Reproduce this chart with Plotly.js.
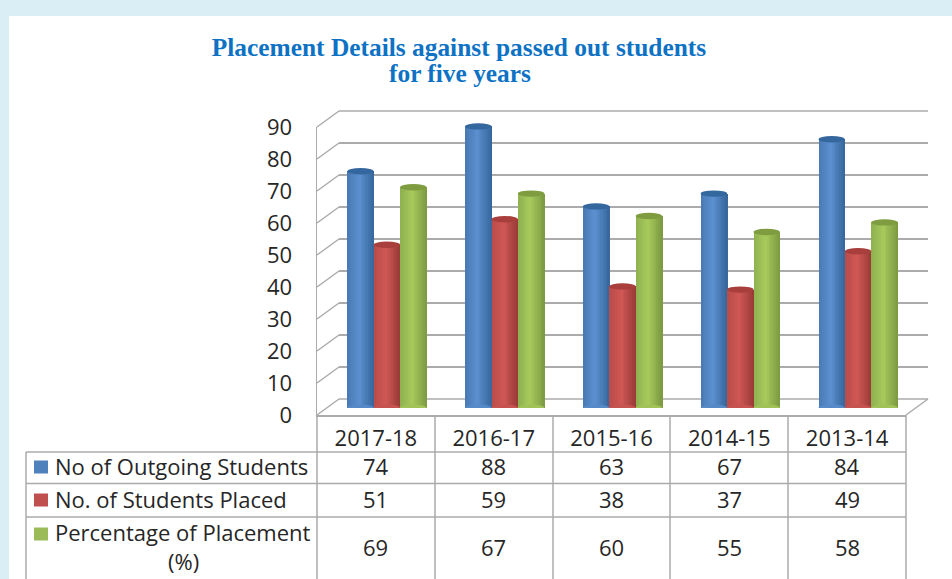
<!DOCTYPE html>
<html>
<head>
<meta charset="utf-8">
<script src="https://cdn.plot.ly/plotly-3.0.1.min.js"></script>
<style>html,body{margin:0;padding:0;background:#daeef5;overflow:hidden}</style>
</head>
<body>
<div id="chart" style="width:952px;height:579px"></div>
<script>
const categories = ['2017-18', '2016-17', '2015-16', '2014-15', '2013-14'];
const outgoing = [74, 88, 63, 67, 84];
const placed = [51, 59, 38, 37, 49];
const percentage = [69, 67, 60, 55, 58];
const yTicks = [0, 10, 20, 30, 40, 50, 60, 70, 80, 90];
const seriesNames = ['No of Outgoing Students', 'No. of Students Placed', 'Percentage of Placement'];
const seriesValues = [outgoing, placed, percentage];
const titleLines = ['Placement Details against passed out students', 'for five years'];

const W = 952, H = 579;
const fx = p => p / W, fy = p => 1 - p / H;
const GRID = '#ababab', TXT = '#262626', FONT = '"Open Sans", sans-serif';
const TITLE_FONT = {family: '"Liberation Serif", serif', size: 25.4, color: '#0e72c4', weight: 'bold'};
const FS = 22;

// cylinder shading: left edge, highlight, right edge
const ramps = [
  [[74, 122, 182], [92, 144, 208], [56, 104, 158]],
  [[186, 76, 73], [208, 88, 85], [156, 60, 57]],
  [[144, 178, 80], [168, 202, 92], [126, 156, 66]]
];
const strips = 14;
const shade = (r, t) => {
  const [a, b] = t < 0.45 ? [r[0], r[1]] : [r[1], r[2]];
  const u = t < 0.45 ? t / 0.45 : (t - 0.45) / 0.55;
  return 'rgb(' + a.map((c, i) => Math.round(c + (b[i] - c) * u)).join(',') + ')';
};
const caps = ['#35679f', '#a83f3c', '#7f9d40'];
const keys = ['#4f81bd', '#c0504d', '#9bbb59'];

const barW = 26.4 / 117.8;
const traces = [];
// invisible carriers that let the front and back-wall axes exist
traces.push({type: 'scatter', mode: 'markers', x: categories, y: outgoing, xaxis: 'x', yaxis: 'y',
  marker: {opacity: 0}, hoverinfo: 'skip', showlegend: false});
traces.push({type: 'scatter', mode: 'markers', x: categories, y: outgoing, xaxis: 'x2', yaxis: 'y2',
  marker: {opacity: 0}, hoverinfo: 'skip', showlegend: false});
seriesValues.forEach((vals, s) => {
  for (let k = 0; k < strips; k++) {
    traces.push({
      type: 'bar', x: categories, y: vals, name: seriesNames[s], xaxis: 'x3', yaxis: 'y3',
      width: barW / strips + 0.004, offset: (s - 1.5) * barW + k * barW / strips,
      marker: {color: shade(ramps[s], k / (strips - 1)), line: {width: 0}}, showlegend: false, hoverinfo: 'skip'
    });
  }
});

const shapes = [];
const line = (x0, y0, x1, y1, w) => shapes.push({type: 'line', xref: 'paper', yref: 'paper',
  x0: fx(x0), y0: fy(y0), x1: fx(x1), y1: fy(y1), line: {color: GRID, width: w || 1.5}, layer: 'below'});
// page card
shapes.push({type: 'rect', xref: 'paper', yref: 'paper', x0: fx(9), x1: 1, y0: 0, y1: fy(16),
  fillcolor: '#ffffff', line: {width: 0}, layer: 'below'});
// left wall diagonals
yTicks.forEach(t => {
  const py = 415 - t * 3.2;
  line(317, py, 339, py - 16);
});
// back wall top edge and floor
line(339, 111, 928, 111);
line(906, 415, 928, 399);
line(339, 399, 928, 399);
// table
[317, 435, 553, 670, 788, 906].forEach(x => line(x, 415, x, 579));
line(26, 452, 26, 579);
[452, 483.5, 517].forEach(y => line(26, y, 906, y));
// bar caps and feet
seriesValues.forEach((vals, s) => {
  vals.forEach((v, i) => {
    const cx = i + (s - 1) * barW;
    shapes.push({type: 'circle', xref: 'x3', yref: 'y3', xsizemode: 'pixel', ysizemode: 'pixel',
      xanchor: cx, yanchor: 0, x0: -13.2, x1: 13.2, y0: -3.4, y1: 3.4,
      fillcolor: shade(ramps[s], 0.55), line: {width: 0}, layer: 'above'});
    shapes.push({type: 'circle', xref: 'x3', yref: 'y3', xsizemode: 'pixel', ysizemode: 'pixel',
      xanchor: cx, yanchor: v, x0: -13.2, x1: 13.2, y0: -3.2, y1: 3.2,
      fillcolor: caps[s], line: {width: 0}, layer: 'above'});
  });
});
// legend keys
[467, 500, 534].forEach((y, s) => shapes.push({type: 'rect', xref: 'paper', yref: 'paper',
  x0: fx(34), x1: fx(48), y0: fy(y - 6.5), y1: fy(y + 6.5), fillcolor: keys[s], line: {width: 0}, layer: 'below'}));

const annotations = [];
const cellFont = {family: FONT, size: FS, color: TXT};
const label = (text, x, y, anchor) => annotations.push({text, xref: 'paper', yref: 'paper', x: fx(x), y: fy(y),
  xanchor: anchor, yanchor: 'middle', showarrow: false, font: cellFont});
label(seriesNames[0], 53, 466, 'left');
label(seriesNames[1], 53, 499, 'left');
label(seriesNames[2], 53, 532, 'left');
label('(%)', 183, 561, 'center');
[466, 499, 547].forEach((y, s) => seriesValues[s].forEach((v, i) => annotations.push({
  text: String(v), xref: 'x', yref: 'paper', x: i, y: fy(y), xanchor: 'center', yanchor: 'middle',
  showarrow: false, font: cellFont})));
annotations.push({text: titleLines[1], xref: 'paper', yref: 'paper', x: 460 / W, y: fy(73), xanchor: 'center',
  yanchor: 'middle', showarrow: false, font: TITLE_FONT});

const layout = {
  width: W, height: H,
  margin: {l: 0, r: 0, t: 0, b: 0, pad: 0},
  paper_bgcolor: '#daeef5', plot_bgcolor: 'rgba(0,0,0,0)',
  showlegend: false, barmode: 'overlay', bargap: 0,
  title: {
    text: titleLines[0],
    font: TITLE_FONT,
    x: 459 / W, xanchor: 'center', y: fy(47), yanchor: 'middle'
  },
  xaxis: {domain: [fx(317), fx(906)], anchor: 'y', type: 'category', categoryorder: 'array', categoryarray: categories,
    range: [-0.5, 4.5], showgrid: false, zeroline: false, showline: true, linecolor: GRID, linewidth: 1.5,
    ticks: '', ticklabelstandoff: 3, tickfont: {family: FONT, size: FS, color: TXT}},
  yaxis: {domain: [fy(415), fy(127)], anchor: 'x', range: [0, 90], tickvals: yTicks, showgrid: false, zeroline: false,
    showline: true, linecolor: GRID, linewidth: 1.5, ticks: '', ticklabelstandoff: 19,
    tickfont: {family: FONT, size: FS, color: TXT}},
  xaxis2: {domain: [fx(339), fx(928)], anchor: 'y2', type: 'category', categoryorder: 'array', categoryarray: categories,
    range: [-0.5, 4.5], visible: false},
  yaxis2: {domain: [fy(399), fy(111)], anchor: 'x2', range: [0, 90], tickvals: yTicks, showgrid: true, gridcolor: GRID,
    gridwidth: 1.5, zeroline: false, showline: false, showticklabels: false, ticks: ''},
  xaxis3: {domain: [fx(328), fx(917)], anchor: 'y3', type: 'category', categoryorder: 'array', categoryarray: categories,
    range: [-0.5, 4.5], visible: false},
  yaxis3: {domain: [fy(408), fy(120)], anchor: 'x3', range: [0, 90], visible: false},
  shapes, annotations
};
Plotly.newPlot('chart', traces, layout, {displayModeBar: false, staticPlot: true});
</script>
</body>
</html>
